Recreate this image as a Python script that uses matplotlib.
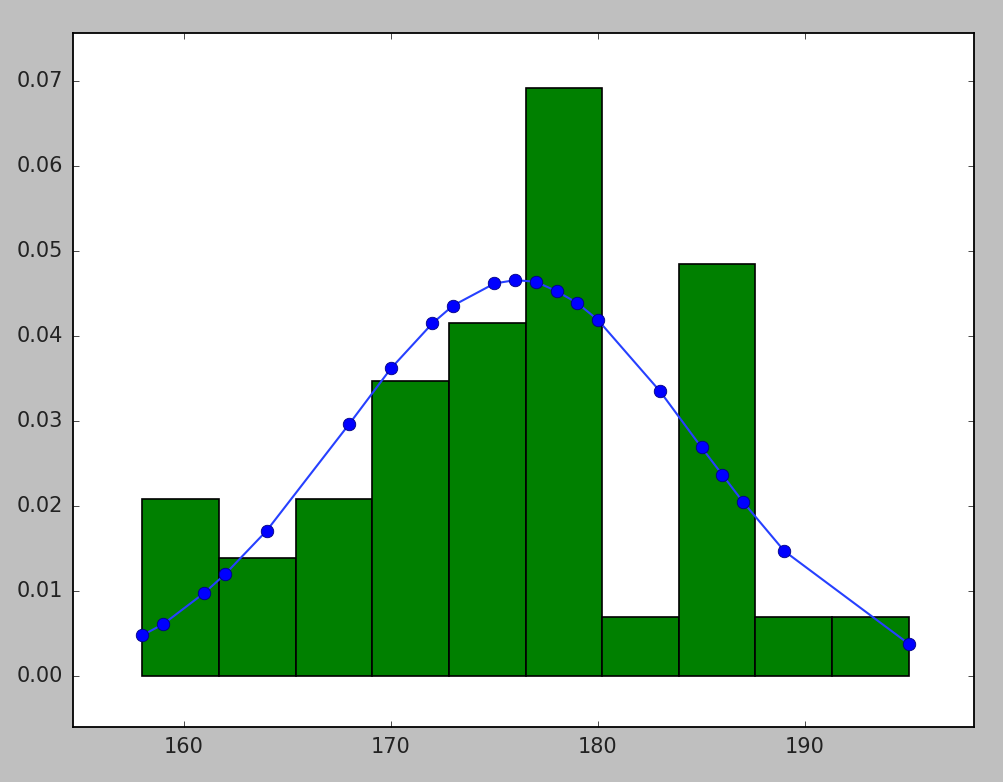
import matplotlib
matplotlib.use("Agg")
import matplotlib.pyplot as plt
import numpy as np

plt.style.use("classic")

# Histogram (density) bin edges and heights
bin_edges = [158.0, 161.7, 165.4, 169.1, 172.8, 176.5, 180.2, 183.9, 187.6, 191.3, 195.0]
densities = [0.0208, 0.0139, 0.0208, 0.0347, 0.0416, 0.0692, 0.0069, 0.0485, 0.0069, 0.0069]

# Fitted curve points
curve_x = [158, 159, 161, 162, 164, 168, 170, 172, 173, 175, 176, 177, 178,
           179, 180, 183, 185, 186, 187, 189, 195]
curve_y = [0.0048, 0.0061, 0.0098, 0.0120, 0.0171, 0.0297, 0.0362, 0.0415,
           0.0436, 0.0462, 0.0466, 0.0464, 0.0453, 0.0439, 0.0419, 0.0335,
           0.0269, 0.0237, 0.0205, 0.0147, 0.0038]

fig = plt.figure(figsize=(10.04, 7.82), dpi=100)
ax = fig.add_axes([0.0727, 0.0703, 0.8973, 0.8877])

edges = np.array(bin_edges)
ax.bar(edges[:-1], densities, width=np.diff(edges), align="edge",
       color=(0, 0.5, 0), edgecolor="black", linewidth=1.2)
ax.plot(curve_x, curve_y, "-", color=(0.15, 0.25, 1.0), linewidth=1.5, zorder=3)
ax.plot(curve_x, curve_y, "o", color="blue", markersize=9, markeredgecolor="#000080",
        markeredgewidth=0.6, linestyle="none", zorder=4)

ax.set_xlim(154.65, 198.15)
ax.set_ylim(-0.006, 0.0757)
ax.set_xticks([160, 170, 180, 190])
ax.set_yticks([0.0, 0.01, 0.02, 0.03, 0.04, 0.05, 0.06, 0.07])
ax.set_yticklabels(["0.00", "0.01", "0.02", "0.03", "0.04", "0.05", "0.06", "0.07"])
ax.tick_params(labelsize=15, labelcolor="#222222", pad=7)
for s in ax.spines.values():
    s.set_linewidth(1.3)

fig.savefig("out.png", dpi=100, facecolor=fig.get_facecolor())
